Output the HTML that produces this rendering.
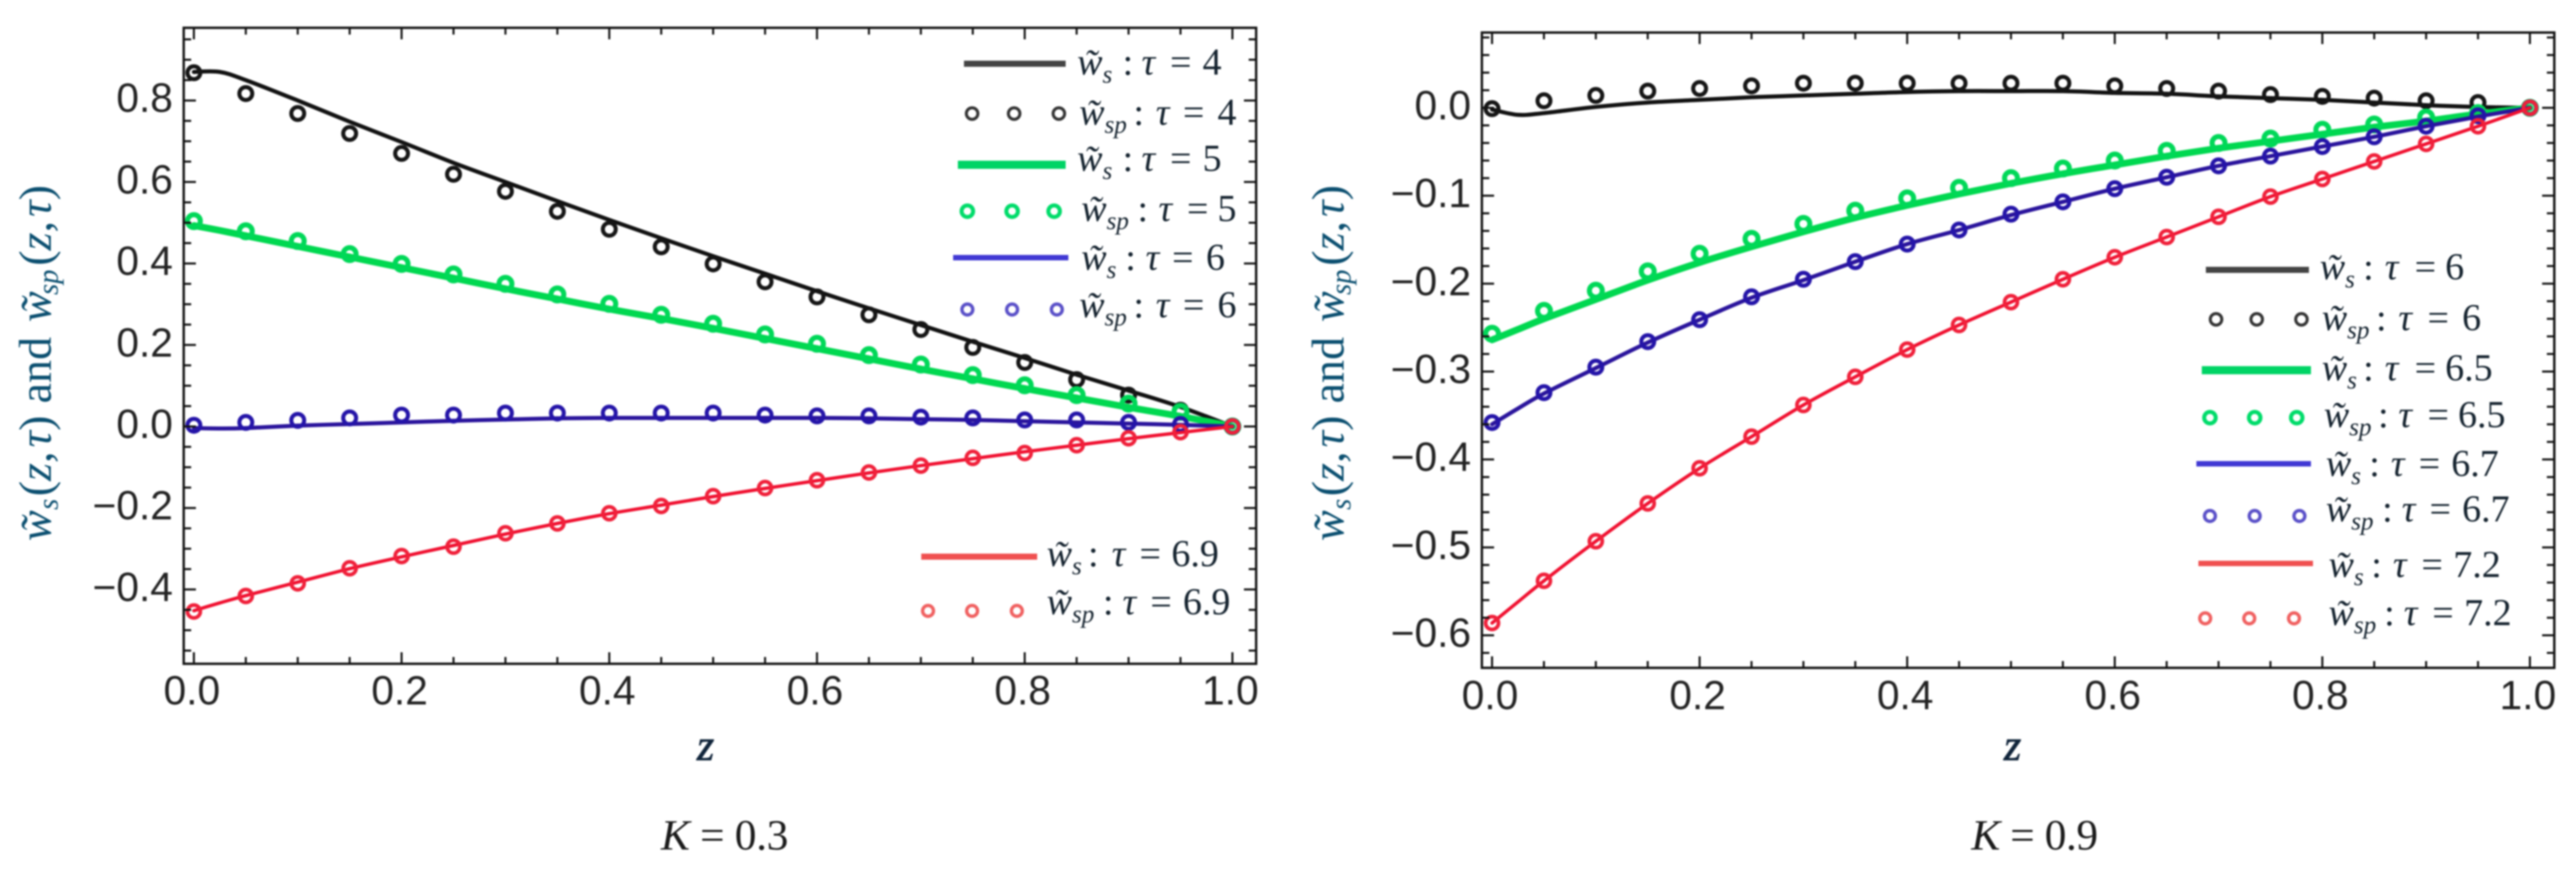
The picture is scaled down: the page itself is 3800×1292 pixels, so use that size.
<!DOCTYPE html>
<html lang="en">
<head>
<meta charset="utf-8">
<title>Comparison of w_s and w_sp for K = 0.3 and K = 0.9</title>
<style>
html,body{margin:0;padding:0;width:3800px;height:1292px;background:#fff;overflow:hidden}
svg{display:block;filter:blur(1.3px)}
.tick{font:60px "Liberation Sans",sans-serif;fill:#222}
.ser{font-family:"Liberation Serif",serif}
.lg{font:56px "Liberation Serif",serif;fill:#14222e}
.lg .i{font-style:italic}
.lg .sub{font-size:37px;font-style:italic}
.yl{font:68px "Liberation Serif",serif;fill:#0b4f70}
.yl .i{font-style:italic}
.yl .sub{font-size:42px;font-style:italic}
.xl{font:italic 66px "Liberation Serif",serif;fill:#10243a;stroke:#10243a;stroke-width:1}
.cap{font:64px "Liberation Serif",serif;fill:#1a1a1a}
.cap .i{font-style:italic}
</style>
</head>
<body>
<svg id="figure" xmlns="http://www.w3.org/2000/svg" width="3800" height="1292" viewBox="0 0 3800 1292">
<rect width="3800" height="1292" fill="#fff"/>
<g id="panel-a"></g>
<g id="panel-b"></g>

<text class="yl" transform="translate(75,798) rotate(-90)"><tspan x="0" class="i">w&#771;</tspan><tspan class="sub" x="46" dy="10">s</tspan><tspan x="66" dy="-10">(</tspan><tspan class="i">z</tspan>,<tspan class="i" dx="6">τ</tspan>)<tspan x="203">and</tspan><tspan x="323" class="i">w&#771;</tspan><tspan class="sub" x="363" dy="10">sp</tspan><tspan x="406" dy="-10">(</tspan><tspan class="i">z</tspan>,<tspan class="i" dx="6">τ</tspan>)</text>
<text class="yl" transform="translate(1982,798) rotate(-90)"><tspan x="0" class="i">w&#771;</tspan><tspan class="sub" x="46" dy="10">s</tspan><tspan x="66" dy="-10">(</tspan><tspan class="i">z</tspan>,<tspan class="i" dx="6">τ</tspan>)<tspan x="203">and</tspan><tspan x="323" class="i">w&#771;</tspan><tspan class="sub" x="363" dy="10">sp</tspan><tspan x="406" dy="-10">(</tspan><tspan class="i">z</tspan>,<tspan class="i" dx="6">τ</tspan>)</text>

<text class="xl" x="1028" y="1121">z</text>
<text class="xl" x="2956" y="1121">z</text>
<text class="cap" x="975" y="1253" textLength="188" lengthAdjust="spacing"><tspan class="i">K</tspan> = 0.3</text>
<text class="cap" x="2908" y="1253" textLength="187" lengthAdjust="spacing"><tspan class="i">K</tspan> = 0.9</text>

<g>
<g>
<line x1="1422" x2="1572" y1="94" y2="94" stroke="#444" stroke-width="9"/>
<text class="lg" y="110"><tspan x="1589" class="i">w&#771;</tspan><tspan class="sub" dy="12">s</tspan><tspan x="1656" dy="-12">:</tspan><tspan x="1684" class="i">τ</tspan><tspan x="1726">=</tspan><tspan x="1774">4</tspan></text></g>
<g fill="none" stroke="#333" stroke-width="4.5">
<circle cx="1434" cy="167.5" r="8.5"/><circle cx="1496" cy="167.5" r="8.5"/><circle cx="1562" cy="167.5" r="8.5"/>
<text class="lg" y="184" stroke="none"><tspan x="1592" class="i">w&#771;</tspan><tspan class="sub" dy="12">sp</tspan><tspan x="1672" dy="-12">:</tspan><tspan x="1705" class="i">τ</tspan><tspan x="1745">=</tspan><tspan x="1796">4</tspan></text></g>
<g>
<line x1="1413" x2="1572" y1="243" y2="243" stroke="#00d465" stroke-width="12"/>
<text class="lg" y="252"><tspan x="1589" class="i">w&#771;</tspan><tspan class="sub" dy="12">s</tspan><tspan x="1656" dy="-12">:</tspan><tspan x="1684" class="i">τ</tspan><tspan x="1726">=</tspan><tspan x="1774">5</tspan></text></g>
<g fill="none" stroke="#00dc6a" stroke-width="6">
<circle cx="1427" cy="311.5" r="8.5"/><circle cx="1493" cy="311.5" r="8.5"/><circle cx="1555" cy="311.5" r="8.5"/>
<text class="lg" y="326" stroke="none"><tspan x="1595" class="i">w&#771;</tspan><tspan class="sub" dy="12">sp</tspan><tspan x="1678" dy="-12">:</tspan><tspan x="1709" class="i">τ</tspan><tspan x="1751">=</tspan><tspan x="1796">5</tspan></text></g>
<g>
<line x1="1406" x2="1576" y1="380" y2="380" stroke="#4038d4" stroke-width="8"/>
<text class="lg" y="398"><tspan x="1595" class="i">w&#771;</tspan><tspan class="sub" dy="12">s</tspan><tspan x="1660" dy="-12">:</tspan><tspan x="1690" class="i">τ</tspan><tspan x="1729">=</tspan><tspan x="1779">6</tspan></text></g>
<g fill="none" stroke="#5a50c8" stroke-width="5">
<circle cx="1427" cy="456.5" r="8"/><circle cx="1493" cy="456.5" r="8"/><circle cx="1559" cy="456.5" r="8"/>
<text class="lg" y="468" stroke="none"><tspan x="1592" class="i">w&#771;</tspan><tspan class="sub" dy="12">sp</tspan><tspan x="1672" dy="-12">:</tspan><tspan x="1705" class="i">τ</tspan><tspan x="1745">=</tspan><tspan x="1796">6</tspan></text></g>
<g>
<line x1="1359" x2="1530" y1="821" y2="821" stroke="#f05050" stroke-width="9"/>
<text class="lg" y="835"><tspan x="1544" class="i">w&#771;</tspan><tspan class="sub" dy="12">s</tspan><tspan x="1605" dy="-12">:</tspan><tspan x="1640" class="i">τ</tspan><tspan x="1681">=</tspan><tspan x="1728">6.9</tspan></text></g>
<g fill="none" stroke="#f06060" stroke-width="5">
<circle cx="1369" cy="901" r="8"/><circle cx="1434" cy="901" r="8"/><circle cx="1500" cy="901" r="8"/>
<text class="lg" y="906" stroke="none"><tspan x="1544" class="i">w&#771;</tspan><tspan class="sub" dy="12">sp</tspan><tspan x="1627" dy="-12">:</tspan><tspan x="1656" class="i">τ</tspan><tspan x="1697">=</tspan><tspan x="1745">6.9</tspan></text></g>
</g>

<g>
<g>
<line x1="3254" x2="3406" y1="398" y2="398" stroke="#444" stroke-width="9"/>
<text class="lg" y="412"><tspan x="3422" class="i">w&#771;</tspan><tspan class="sub" dy="12">s</tspan><tspan x="3486" dy="-12">:</tspan><tspan x="3518" class="i">τ</tspan><tspan x="3562">=</tspan><tspan x="3607">6</tspan></text></g>
<g fill="none" stroke="#333" stroke-width="4.5">
<circle cx="3269" cy="471" r="8.5"/><circle cx="3329" cy="471" r="8.5"/><circle cx="3395" cy="471" r="8.5"/>
<text class="lg" y="487" stroke="none"><tspan x="3425" class="i">w&#771;</tspan><tspan class="sub" dy="12">sp</tspan><tspan x="3505" dy="-12">:</tspan><tspan x="3538" class="i">τ</tspan><tspan x="3581">=</tspan><tspan x="3632">6</tspan></text></g>
<g>
<line x1="3248" x2="3409" y1="546" y2="546" stroke="#00d465" stroke-width="12"/>
<text class="lg" y="561"><tspan x="3425" class="i">w&#771;</tspan><tspan class="sub" dy="12">s</tspan><tspan x="3486" dy="-12">:</tspan><tspan x="3518" class="i">τ</tspan><tspan x="3562">=</tspan><tspan x="3607">6.5</tspan></text></g>
<g fill="none" stroke="#00dc6a" stroke-width="6">
<circle cx="3260" cy="616" r="8.5"/><circle cx="3326" cy="616" r="8.5"/><circle cx="3388" cy="616" r="8.5"/>
<text class="lg" y="630" stroke="none"><tspan x="3428" class="i">w&#771;</tspan><tspan class="sub" dy="12">sp</tspan><tspan x="3508" dy="-12">:</tspan><tspan x="3538" class="i">τ</tspan><tspan x="3581">=</tspan><tspan x="3626">6.5</tspan></text></g>
<g>
<line x1="3240" x2="3409" y1="684" y2="684" stroke="#4038d4" stroke-width="8"/>
<text class="lg" y="702"><tspan x="3431" class="i">w&#771;</tspan><tspan class="sub" dy="12">s</tspan><tspan x="3495" dy="-12">:</tspan><tspan x="3527" class="i">τ</tspan><tspan x="3568">=</tspan><tspan x="3616">6.7</tspan></text></g>
<g fill="none" stroke="#5a50c8" stroke-width="5">
<circle cx="3260" cy="761" r="8"/><circle cx="3326" cy="761" r="8"/><circle cx="3392" cy="761" r="8"/>
<text class="lg" y="769" stroke="none"><tspan x="3431" class="i">w&#771;</tspan><tspan class="sub" dy="12">sp</tspan><tspan x="3514" dy="-12">:</tspan><tspan x="3543" class="i">τ</tspan><tspan x="3584">=</tspan><tspan x="3632">6.7</tspan></text></g>
<g>
<line x1="3243" x2="3412" y1="831" y2="831" stroke="#f05050" stroke-width="8"/>
<text class="lg" y="851"><tspan x="3435" class="i">w&#771;</tspan><tspan class="sub" dy="12">s</tspan><tspan x="3498" dy="-12">:</tspan><tspan x="3530" class="i">τ</tspan><tspan x="3572">=</tspan><tspan x="3619">7.2</tspan></text></g>
<g fill="none" stroke="#f06060" stroke-width="5">
<circle cx="3253" cy="912" r="8"/><circle cx="3318" cy="912" r="8"/><circle cx="3384" cy="912" r="8"/>
<text class="lg" y="922" stroke="none"><tspan x="3435" class="i">w&#771;</tspan><tspan class="sub" dy="12">sp</tspan><tspan x="3517" dy="-12">:</tspan><tspan x="3546" class="i">τ</tspan><tspan x="3588">=</tspan><tspan x="3635">7.2</tspan></text></g>
</g>
</svg>

<script>
// Shared sample grids
const zMarkers = [0,0.05,0.1,0.15,0.2,0.25,0.3,0.35,0.4,0.45,0.5,0.55,0.6,0.65,0.7,0.75,0.8,0.85,0.9,0.95,1];
const zLine = [0,0.025,0.05,0.1,0.15,0.2,0.25,0.3,0.35,0.4,0.45,0.5,0.55,0.6,0.65,0.7,0.75,0.8,0.85,0.9,0.95,1];
const xTickLabels = ['0.0','0.2','0.4','0.6','0.8','1.0'];
const xTickValues = [0,0.2,0.4,0.6,0.8,1];
const yTickValuesA = [0.8,0.6,0.4,0.2,0,-0.2,-0.4];
const yTickLabelsA = ['0.8','0.6','0.4','0.2','0.0','\u22120.2','\u22120.4'];
const yTickValuesB = [0,-0.1,-0.2,-0.3,-0.4,-0.5,-0.6];
const yTickLabelsB = ['0.0','\u22120.1','\u22120.2','\u22120.3','\u22120.4','\u22120.5','\u22120.6'];

// Panel K = 0.3: solid curves
const a_ws_tau4 = [0.870,0.870,0.850,0.800,0.748,0.698,0.647,0.600,0.553,0.507,0.462,0.418,0.375,0.332,0.290,0.249,0.208,0.168,0.127,0.088,0.048,0];
const a_ws_tau5 = [0.493,0.481,0.468,0.442,0.416,0.390,0.364,0.338,0.313,0.288,0.265,0.241,0.216,0.191,0.166,0.141,0.117,0.093,0.070,0.047,0.025,0];
const a_ws_tau6 = [-0.004,-0.005,-0.004,0.002,0.006,0.010,0.014,0.017,0.020,0.021,0.021,0.021,0.021,0.021,0.020,0.018,0.016,0.013,0.010,0.007,0.004,0];
const a_ws_tau69 = [-0.452,-0.433,-0.415,-0.382,-0.349,-0.320,-0.292,-0.264,-0.238,-0.214,-0.193,-0.172,-0.152,-0.133,-0.114,-0.096,-0.079,-0.062,-0.046,-0.030,-0.015,0];
// Panel K = 0.3: small-time markers
const a_wsp_tau4 = [0.868,0.817,0.768,0.719,0.670,0.619,0.577,0.528,0.484,0.441,0.399,0.355,0.318,0.274,0.238,0.194,0.157,0.115,0.077,0.040,0];
const a_wsp_tau5 = [0.504,0.479,0.455,0.423,0.399,0.373,0.350,0.324,0.301,0.274,0.252,0.226,0.203,0.175,0.152,0.126,0.101,0.077,0.056,0.036,0];
const a_wsp_tau6 = [0.003,0.010,0.015,0.021,0.028,0.028,0.033,0.033,0.033,0.033,0.033,0.028,0.026,0.026,0.023,0.021,0.016,0.016,0.010,0.005,0];
const a_wsp_tau69 = [-0.454,-0.416,-0.385,-0.348,-0.318,-0.295,-0.262,-0.238,-0.213,-0.195,-0.171,-0.151,-0.132,-0.113,-0.096,-0.077,-0.065,-0.046,-0.029,-0.014,0];

// Panel K = 0.9: solid curves
const b_ws_tau6 = [-0.002,-0.008,-0.006,0.001,0.006,0.009,0.012,0.014,0.016,0.018,0.019,0.019,0.019,0.017,0.016,0.013,0.011,0.009,0.006,0.003,0.001,0];
const b_ws_tau65 = [-0.264,-0.252,-0.240,-0.218,-0.196,-0.176,-0.158,-0.141,-0.125,-0.111,-0.098,-0.086,-0.075,-0.065,-0.055,-0.046,-0.038,-0.030,-0.022,-0.015,-0.007,0];
const b_ws_tau67 = [-0.360,-0.342,-0.325,-0.296,-0.267,-0.241,-0.216,-0.196,-0.175,-0.155,-0.139,-0.122,-0.107,-0.092,-0.079,-0.066,-0.055,-0.044,-0.033,-0.021,-0.010,0];
const b_ws_tau72 = [-0.586,-0.562,-0.538,-0.493,-0.450,-0.410,-0.374,-0.338,-0.306,-0.275,-0.247,-0.221,-0.195,-0.170,-0.147,-0.124,-0.101,-0.081,-0.061,-0.041,-0.021,0];
// Panel K = 0.9: small-time markers
const b_wsp_tau6 = [-0.001,0.008,0.014,0.019,0.022,0.025,0.028,0.028,0.028,0.028,0.028,0.028,0.025,0.022,0.019,0.015,0.013,0.011,0.008,0.006,0];
const b_wsp_tau65 = [-0.257,-0.231,-0.208,-0.186,-0.166,-0.149,-0.132,-0.117,-0.103,-0.091,-0.080,-0.069,-0.060,-0.049,-0.040,-0.035,-0.025,-0.019,-0.011,-0.006,0];
const b_wsp_tau67 = [-0.358,-0.324,-0.295,-0.266,-0.241,-0.215,-0.195,-0.175,-0.155,-0.139,-0.121,-0.107,-0.092,-0.079,-0.066,-0.055,-0.044,-0.033,-0.021,-0.009,0];
const b_wsp_tau72 = [-0.586,-0.538,-0.493,-0.450,-0.410,-0.374,-0.338,-0.306,-0.275,-0.247,-0.221,-0.195,-0.170,-0.147,-0.124,-0.101,-0.081,-0.061,-0.041,-0.021,0];

const NS = 'http://www.w3.org/2000/svg';
function make(tag, attrs, parent) {
  const e = document.createElementNS(NS, tag);
  for (const k in attrs) e.setAttribute(k, attrs[k]);
  parent.appendChild(e);
  return e;
}
function smoothPath(pts) {
  let d = 'M' + pts[0][0].toFixed(1) + ' ' + pts[0][1].toFixed(1);
  for (let i = 0; i < pts.length - 1; i++) {
    const p0 = pts[Math.max(0, i - 1)], p1 = pts[i], p2 = pts[i + 1], p3 = pts[Math.min(pts.length - 1, i + 2)];
    const c1x = p1[0] + (p2[0] - p0[0]) / 6, c1y = p1[1] + (p2[1] - p0[1]) / 6;
    const c2x = p2[0] - (p3[0] - p1[0]) / 6, c2y = p2[1] - (p3[1] - p1[1]) / 6;
    d += 'C' + c1x.toFixed(1) + ' ' + c1y.toFixed(1) + ' ' + c2x.toFixed(1) + ' ' + c2y.toFixed(1) + ' ' + p2[0].toFixed(1) + ' ' + p2[1].toFixed(1);
  }
  return d;
}
function drawPanel(cfg) {
  const g = document.getElementById(cfg.id);
  const xScale = z => cfg.x0 + cfg.xk * z;
  const yScale = v => cfg.y0 - cfg.yk * v;

  // curves then markers
  cfg.series.forEach(s => {
    const path = make('path', {d: smoothPath(zLine.map((z, i) => [xScale(z), yScale(s.line[i])])), fill: 'none', stroke: s.color, 'stroke-width': s.width, 'stroke-linejoin': 'round', 'stroke-linecap': 'round'}, g);
    
    
    zMarkers.forEach((z, i) => {
      const c = make('circle', {cx: xScale(z).toFixed(1), cy: yScale(s.marks[i]).toFixed(1), r: 9.5, fill: 'none', stroke: s.markColor, 'stroke-width': s.markWidth}, g);
      
      
    });
  });

  // frame
  const frame = make('rect', {x: cfg.left, y: cfg.top, width: cfg.right - cfg.left, height: cfg.bottom - cfg.top, fill: 'none', stroke: '#111', 'stroke-width': 3.5}, g);
  
  

  // x ticks every 0.05, major every 0.2
  for (let n = 0; n <= 20; n++) {
    const px = xScale(n * 0.05);
    const len = n % 4 === 0 ? 17 : 10;
    [[cfg.top, len], [cfg.bottom, -len]].forEach(([yy, l]) => {
      const t = make('line', {x1: px, x2: px, y1: yy, y2: yy + l, stroke: '#111', 'stroke-width': 3}, g);
      
      
    });
  }
  // y ticks
  for (let n = cfg.yMinorFrom; n <= cfg.yMinorTo; n++) {
    const val = n * cfg.yMinorStep;
    const major = cfg.yVals.some(v => Math.abs(v - val) < 1e-6);
    const py = yScale(val);
    const len = major ? 18 : 11;
    [[cfg.left, len], [cfg.right, -len]].forEach(([xx, l]) => {
      const t = make('line', {x1: xx, x2: xx + l, y1: py, y2: py, stroke: '#111', 'stroke-width': 3}, g);
      
      
    });
  }
  // tick labels
  xTickValues.forEach((v, i) => {
    const t = make('text', {x: xScale(v) - 3, y: cfg.xLabelY, 'text-anchor': 'middle', class: 'tick'}, g);
    t.textContent = xTickLabels[i];
    
    
  });
  cfg.yVals.forEach((v, i) => {
    const t = make('text', {x: cfg.yLabelX, y: yScale(v) + 17, 'text-anchor': 'end', class: 'tick'}, g);
    t.textContent = cfg.yLabels[i];
    
    
  });
}

drawPanel({
  id: 'panel-a', x0: 286, xk: 1532, y0: 629, yk: 601,
  left: 271, right: 1853, top: 41, bottom: 979,
  xLabelY: 1039, yLabelX: 255,
  yVals: yTickValuesA, yLabels: yTickLabelsA,
  yMinorFrom: -11, yMinorTo: 19, yMinorStep: 0.05,
  series: [
    {key: 'tau-4', line: a_ws_tau4, marks: a_wsp_tau4, color: '#111', markColor: '#151515', width: 6, markWidth: 6},
    {key: 'tau-5', line: a_ws_tau5, marks: a_wsp_tau5, color: '#00d850', markColor: '#00d858', width: 10, markWidth: 7.5},
    {key: 'tau-6', line: a_ws_tau6, marks: a_wsp_tau6, color: '#2a149c', markColor: '#2414a8', width: 6, markWidth: 6},
    {key: 'tau-6-9', line: a_ws_tau69, marks: a_wsp_tau69, color: '#f01030', markColor: '#f0203a', width: 5, markWidth: 5.5}
  ]
});
drawPanel({
  id: 'panel-b', x0: 2201, xk: 1531, y0: 159, yk: 1296.7,
  left: 2186, right: 3768, top: 48, bottom: 985,
  xLabelY: 1046, yLabelX: 2170,
  yVals: yTickValuesB, yLabels: yTickLabelsB,
  yMinorFrom: -31, yMinorTo: 4, yMinorStep: 0.02,
  series: [
    {key: 'tau-6', line: b_ws_tau6, marks: b_wsp_tau6, color: '#111', markColor: '#151515', width: 6, markWidth: 6},
    {key: 'tau-6-5', line: b_ws_tau65, marks: b_wsp_tau65, color: '#00d850', markColor: '#00d858', width: 10, markWidth: 7.5},
    {key: 'tau-6-7', line: b_ws_tau67, marks: b_wsp_tau67, color: '#2a149c', markColor: '#2414a8', width: 6, markWidth: 6},
    {key: 'tau-7-2', line: b_ws_tau72, marks: b_wsp_tau72, color: '#f01030', markColor: '#f0203a', width: 5, markWidth: 5.5}
  ]
});
</script>
</body>
</html>
